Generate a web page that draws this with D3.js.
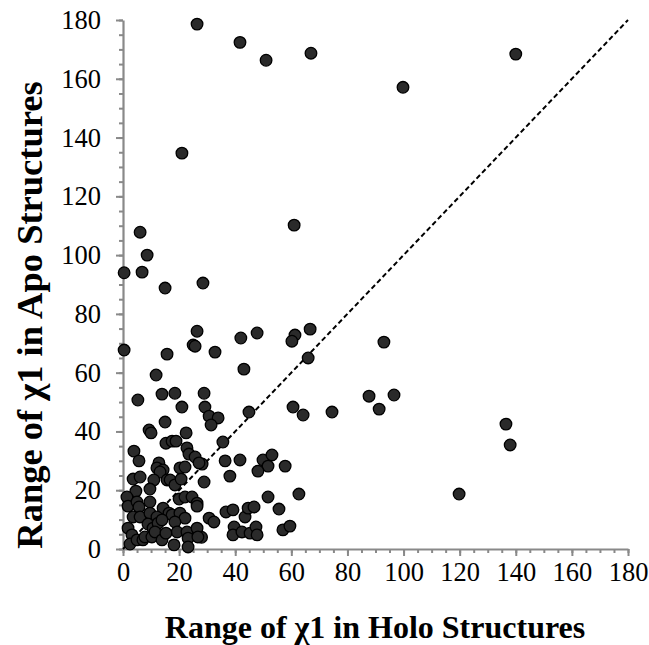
<!DOCTYPE html>
<html>
<head>
<meta charset="utf-8">
<script src="https://cdn.jsdelivr.net/npm/d3@7"></script>
<style>
  html, body { margin: 0; padding: 0; background: #fff; }
  svg { display: block; }
  text { font-family: "Liberation Serif", "Times New Roman", serif; }
</style>
</head>
<body>
<svg id="chart" width="649" height="645"></svg>
<script>
// Range of chi1 per residue: holo structures (x) vs apo structures (y), degrees
const holoRange = [
  26.4, 41.7, 51.0, 67.0, 140.0, 99.8, 21.0, 61.0, 6.1, 8.6,
  0.4, 6.8, 15.0, 28.5, 26.4, 25.0, 25.7, 0.4, 15.7, 32.8,
  11.8, 5.3, 13.9, 18.5, 28.9, 21.0, 29.2, 42.0, 47.8, 61.3,
  60.2, 66.7, 66.0, 43.1, 44.9, 60.6, 93.0, 64.2, 74.5, 87.7,
  96.6, 91.3, 136.5, 138.0, 119.8, 30.7, 33.9, 31.4, 35.6, 36.4,
  41.7, 28.2, 49.9, 53.1, 51.7, 48.1, 57.8, 38.1, 28.9, 51.7,
  62.7, 36.7, 39.2, 30.7, 32.4, 43.5, 44.6, 46.7, 55.6, 39.6,
  39.2, 42.4, 45.3, 47.4, 47.8, 57.0, 59.5, 28.0, 15.0, 9.3,
  10.0, 22.5, 15.3, 17.5, 18.9, 22.8, 3.9, 23.5, 25.7, 27.1,
  5.7, 12.8, 12.1, 14.3, 13.2, 20.3, 22.1, 3.6, 6.1, 11.0,
  15.7, 16.8, 18.5, 20.7, 9.6, 4.6, 1.4, 1.8, 5.0, 5.7,
  9.6, 20.0, 22.1, 24.6, 26.4, 26.4, 14.3, 16.4, 17.5, 20.3,
  22.1, 3.6, 6.1, 9.6, 12.1, 8.9, 10.7, 12.5, 13.9, 18.5,
  19.3, 1.8, 3.2, 2.5, 5.0, 7.1, 7.8, 10.3, 11.4, 13.9,
  15.3, 18.2, 22.8, 23.2, 23.2, 26.4, 26.7
];
const apoRange = [
  178.6, 172.4, 166.3, 168.7, 168.4, 157.1, 134.7, 110.2, 107.8, 100.0,
  94.0, 94.2, 88.8, 90.5, 74.1, 69.4, 69.0, 67.7, 66.3, 67.0,
  59.2, 50.7, 52.7, 53.0, 53.0, 48.3, 48.3, 71.8, 73.5, 72.8,
  70.7, 74.8, 65.0, 61.2, 46.6, 48.3, 70.4, 45.6, 46.6, 52.0,
  52.4, 47.6, 42.5, 35.4, 18.7, 45.2, 44.6, 42.2, 36.4, 30.0,
  30.3, 28.9, 30.3, 32.0, 28.2, 26.5, 28.2, 24.8, 22.8, 17.7,
  18.7, 12.6, 13.3, 10.5, 9.2, 10.9, 13.9, 14.3, 13.6, 7.5,
  4.8, 5.8, 5.4, 7.5, 4.8, 6.5, 7.8, 4.0, 43.2, 40.5,
  39.5, 39.5, 36.0, 36.7, 36.7, 34.4, 33.3, 32.3, 31.3, 29.3,
  30.0, 29.3, 27.6, 26.9, 26.2, 27.6, 27.9, 23.8, 24.5, 23.5,
  23.5, 23.5, 21.8, 23.8, 20.4, 19.7, 17.7, 14.6, 16.0, 14.3,
  16.0, 17.0, 17.7, 17.7, 15.6, 14.6, 13.9, 12.2, 11.6, 12.2,
  10.5, 10.9, 10.9, 12.2, 10.9, 8.5, 7.1, 8.8, 9.9, 9.2,
  5.8, 7.1, 4.8, 1.7, 3.1, 3.1, 4.1, 4.1, 5.8, 3.1,
  5.4, 1.4, 5.8, 3.7, 0.7, 7.1, 4.1
];

// Axis ticks (degrees)
const majorTicks = [0, 20, 40, 60, 80, 100, 120, 140, 160, 180];
const minorTicks = d3.range(0, 181, 5);
const xTitle = "Range of χ1 in Holo Structures";
const yTitle = "Range of χ1 in Apo Structures";

const points = holoRange.map((h, i) => ({ holo: h, apo: apoRange[i] }));

const serif = "'Liberation Serif', 'Times New Roman', serif";
const svg = d3.select("#chart");
const plot = { left: 123, right: 628, top: 20, bottom: 549 };

const x = d3.scaleLinear().domain([0, 180]).range([plot.left, plot.right]);
const y = d3.scaleLinear().domain([0, 180]).range([plot.bottom, plot.top]);

const axisColor = "#898989";

// Minor ticks
svg.append("g")
  .attr("transform", `translate(0,${plot.bottom})`)
  .call(d3.axisBottom(x).tickValues(minorTicks).tickSize(4).tickFormat(""))
  .call(g => g.select(".domain").remove())
  .call(g => g.selectAll("line").attr("stroke", axisColor).attr("stroke-width", 2));
svg.append("g")
  .attr("transform", `translate(${plot.left},0)`)
  .call(d3.axisLeft(y).tickValues(minorTicks).tickSize(4).tickFormat(""))
  .call(g => g.select(".domain").remove())
  .call(g => g.selectAll("line").attr("stroke", axisColor).attr("stroke-width", 2));

// Major ticks with labels
const xAxis = svg.append("g")
  .attr("transform", `translate(0,${plot.bottom})`)
  .call(d3.axisBottom(x).tickValues(majorTicks).tickSize(7).tickSizeOuter(0).tickPadding(6));
const yAxis = svg.append("g")
  .attr("transform", `translate(${plot.left},0)`)
  .call(d3.axisLeft(y).tickValues(majorTicks).tickSize(7).tickSizeOuter(0).tickPadding(15));

[xAxis, yAxis].forEach(g => {
  g.attr("font-family", serif).attr("font-size", 26.5);
  g.select(".domain").attr("stroke", axisColor).attr("stroke-width", 2.2);
  g.selectAll("line").attr("stroke", axisColor).attr("stroke-width", 2);
  g.selectAll("text")
    .attr("fill", "#000")
    .attr("font-family", serif)
    .style("font-family", serif)
    .style("font-size", "26.5px");
});

// Reference line y = x
svg.append("line")
  .attr("x1", x(0)).attr("y1", y(0))
  .attr("x2", x(180)).attr("y2", y(180))
  .attr("stroke", "#000")
  .attr("stroke-width", 2)
  .attr("stroke-dasharray", "5,3");

// Residue markers
svg.append("g")
  .selectAll("circle")
  .data(points)
  .join("circle")
  .attr("cx", d => x(d.holo))
  .attr("cy", d => y(d.apo))
  .attr("r", 5.8)
  .attr("fill", "#2a2a2a")
  .attr("stroke", "#000")
  .attr("stroke-width", 1.3);

// Axis titles
svg.append("text")
  .attr("x", 375).attr("y", 638)
  .attr("text-anchor", "middle")
  .style("font-family", serif)
  .style("font-size", "32px")
  .style("font-weight", "bold")
  .text(xTitle);

svg.append("text")
  .attr("transform", "translate(42,315) rotate(-90)")
  .attr("text-anchor", "middle")
  .style("font-family", serif)
  .style("font-size", "36.5px")
  .style("font-weight", "bold")
  .text(yTitle);
</script>
</body>
</html>
